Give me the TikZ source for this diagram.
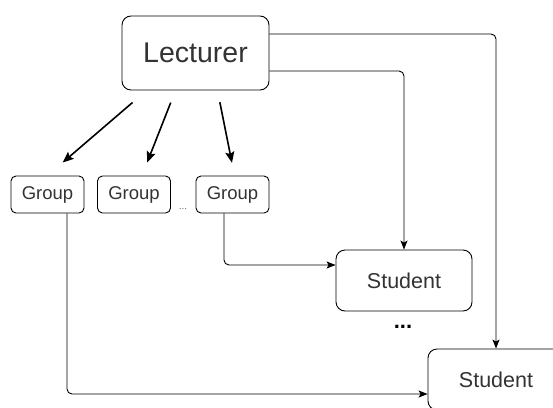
\documentclass[tikz,border=0pt]{standalone}
\usepackage{fontspec}
\setmainfont{Liberation Sans}
\usepackage{tikz}
\usetikzlibrary{arrows.meta}
\tikzstyle{box}=[draw, rounded corners=9pt, line width=0.9pt, text=black!80, inner sep=0pt]
\tikzstyle{lecturerbox}=[box, minimum width=147pt, minimum height=74pt, font=\fontsize{28.5}{30}\selectfont]
\tikzstyle{groupbox}=[box, rounded corners=5pt, minimum width=73pt, minimum height=37pt, font=\fontsize{18.5}{20}\selectfont]
\tikzstyle{studentbox}=[box, minimum width=136pt, minimum height=61pt, font=\fontsize{21.5}{24}\selectfont]
\tikzstyle{thinarrow}=[draw=black, line width=0.9pt, rounded corners=5pt, -{Stealth[length=9pt, width=7pt, inset=2pt]}]
\tikzstyle{thickarrow}=[draw=black, line width=1.6pt, -{Stealth[length=11pt, width=9pt, inset=2pt]}]

\begin{document}
\begin{tikzpicture}[x=1pt, y=-1pt]
	\useasboundingbox (0, 0) rectangle (553, 407);
	\clip (0, 0) rectangle (553, 407);
	\begin{scope}
		\node (lect) at (195.5, 53)[lecturerbox] {Lecturer};
		\node (g1) at (47.5, 194.5)[groupbox] {Group};
		\node (g2) at (134, 194.5)[groupbox] {Group};
		\node (g3) at (232.5, 194.5)[groupbox] {Group};
		\node (gdots) at (183, 209)[text=black!60, font=\fontsize{10}{10}\selectfont] {...};
		\node (st1) at (404, 280.5)[studentbox] {Student};
		\node (stdots) at (403, 327)[text=black, font=\fontsize{22}{22}\selectfont\bfseries] {...};
		\node (st2) at (496, 379.5)[studentbox] {Student};
	\end{scope}
	\begin{scope}
		\draw [thickarrow, shorten <=18.5pt, shorten >=20pt] ([xshift=25pt]lect.south west) -- (g1.north);
		\draw [thickarrow, shorten <=13pt, shorten >=14pt] ([xshift=-20pt]lect.south) -- ([xshift=8pt]g2.north);
		\draw [thickarrow, shorten <=12pt, shorten >=13pt] ([xshift=22pt]lect.south) -- ([xshift=2pt]g3.north);
		\draw [thinarrow] ([yshift=19pt]lect.east) -| (st2.north);
		\draw [thinarrow] ([yshift=-18pt]lect.east) -| (st1.north);
		\draw [thinarrow] ([xshift=-8.5pt]g3.south) |- ([yshift=15.5pt]st1.west);
		\draw [thinarrow] ([xshift=19.5pt]g1.south) |- ([yshift=-14.5pt]st2.west);
	\end{scope}
\end{tikzpicture}
\end{document}
